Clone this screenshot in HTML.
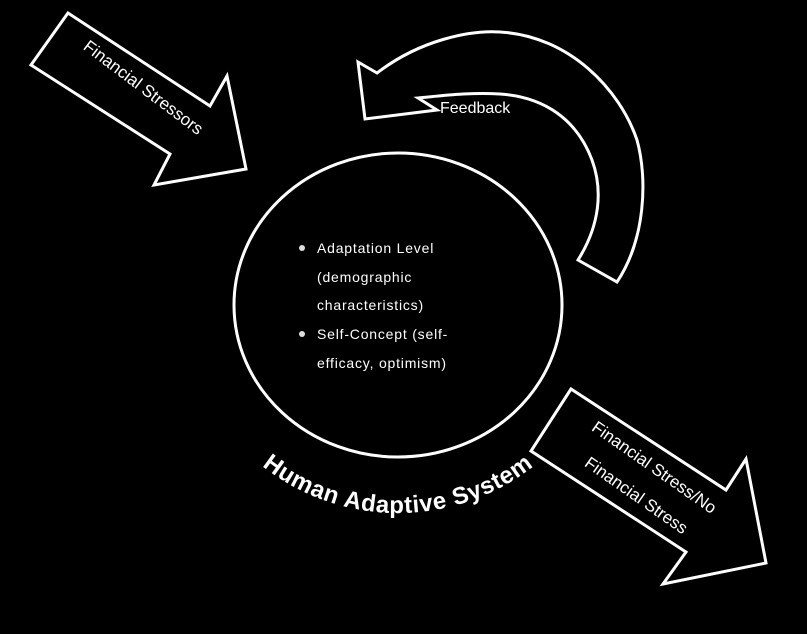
<!DOCTYPE html>
<html><head><style>
html,body{margin:0;padding:0;background:#000;}
svg{display:block;}
text{font-family:"Liberation Sans",sans-serif;fill:#fff;}
</style></head><body>
<svg width="807" height="634" viewBox="0 0 807 634" xmlns="http://www.w3.org/2000/svg">
<rect width="807" height="634" fill="#000"/>
<g fill="#000" stroke="#fff" stroke-width="3" stroke-linejoin="miter">
<polygon points="68,13 31,65 170,154 154,185 246,169 227,76 210,106"/>
<polygon points="571,389 531,451 686,552 663,584 766,563 746,459 726,490"/>
<path d="M358,62 L377,73 C420,40 470,30 500,32 C570,36 620,90 637,140 C648,180 645,240 617,282 L578,260 C600,225 603,190 592,160 C577,120 545,97 500,94 C470,92 440,96 418,98 L437,110 L365,119 Z"/>
<ellipse cx="398" cy="305" rx="164" ry="152"/>
</g>
<text x="440" y="113" font-size="16">Feedback</text>
<text transform="translate(140,92) rotate(37)" font-size="17" text-anchor="middle" fill="#ddd">Financial Stressors</text>
<text transform="translate(651,472) rotate(35)" font-size="17" text-anchor="middle" fill="#ddd">Financial Stress/No</text>
<text transform="translate(633,500) rotate(35)" font-size="17" text-anchor="middle" fill="#ddd">Financial Stress</text>
<g font-size="14" fill="#ddd" letter-spacing="0.8">
<circle cx="302" cy="248" r="3" fill="#ddd"/>
<text x="317" y="253">Adaptation Level</text>
<text x="317" y="282">(demographic</text>
<text x="317" y="310">characteristics)</text>
<circle cx="302" cy="334" r="3" fill="#ddd"/>
<text x="317" y="339">Self-Concept (self-</text>
<text x="317" y="368">efficacy, optimism)</text>
</g>
<defs><path id="arc" d="M178,293 A220 220 0 0 0 618 293"/></defs>
<text font-size="24" font-weight="bold" letter-spacing="0.6"><textPath href="#arc" startOffset="50%" text-anchor="middle">Human Adaptive System</textPath></text>
</svg>
</body></html>
